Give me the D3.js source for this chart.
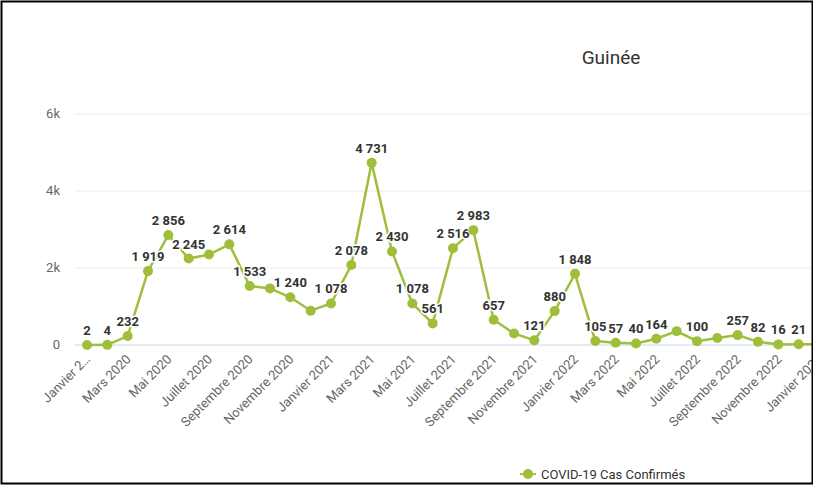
<!DOCTYPE html><html><head><meta charset="utf-8"><script src="https://cdn.jsdelivr.net/npm/d3@7"></script>
<style>body{margin:0;background:#fff}svg{font-family:Roboto,sans-serif}</style></head><body><svg id="c" width="817" height="489"></svg>
<script>
const months=["Janvier 2020","Février 2020","Mars 2020","Avril 2020","Mai 2020","Juin 2020","Juillet 2020","Août 2020","Septembre 2020","Octobre 2020","Novembre 2020","Décembre 2020","Janvier 2021","Février 2021","Mars 2021","Avril 2021","Mai 2021","Juin 2021","Juillet 2021","Août 2021","Septembre 2021","Octobre 2021","Novembre 2021","Décembre 2021","Janvier 2022","Février 2022","Mars 2022","Avril 2022","Mai 2022","Juin 2022","Juillet 2022","Août 2022","Septembre 2022","Octobre 2022","Novembre 2022","Décembre 2022","Janvier 2023"];
const cases=[2,4,232,1919,2856,2245,2350,2614,1533,1470,1240,890,1078,2078,4731,2430,1078,561,2516,2983,657,300,121,880,1848,105,57,40,164,360,100,180,257,82,16,21,20];
const showLabel=[1,1,1,1,1,1,0,1,1,0,1,0,1,1,1,1,1,1,1,1,1,0,1,1,1,1,1,1,1,0,1,0,1,1,1,1,0];
const yTicks=[0,2000,4000,6000];
const yTickLabels=["0","2k","4k","6k"];
const svg=d3.select("#c");
const x=d3.scalePoint().domain(months).range([87,819]);
const y=d3.scaleLinear().domain([0,6000]).range([345,114]);
const g=svg.append("g");
yTicks.forEach((t,i)=>{
  g.append("line").attr("x1",75).attr("x2",817).attr("y1",y(t)).attr("y2",y(t)).attr("stroke",i==0?"#ccd6eb":"#ececec");
  g.append("text").attr("x",60).attr("y",y(t)+4).attr("text-anchor","end").attr("font-size",13).attr("fill","#666").text(yTickLabels[i]);
});
months.forEach((m,i)=>{ if(i%2) return;
  const t=i==0?"Janvier 2…":m;
  g.append("text").attr("transform",`translate(${x(m)+4},${360}) rotate(-45)`).attr("text-anchor","end").attr("font-size",13).attr("fill","#666").text(t);
});
const line=d3.line().x((d,i)=>x(months[i])).y(d=>y(d));
g.append("path").datum(cases).attr("d",line).attr("fill","none").attr("stroke","#9fbf3b").attr("stroke-width",2.5);
cases.forEach((v,i)=>{
  g.append("circle").attr("cx",x(months[i])).attr("cy",y(v)).attr("r",5).attr("fill","#9fbf3b");
  if(showLabel[i]) g.append("text").attr("x",x(months[i])).attr("y",y(v)-10).attr("text-anchor","middle").attr("font-size",13).attr("font-weight","bold").attr("fill","#333").attr("stroke","#fff").attr("stroke-width",3).attr("paint-order","stroke").text(d3.format(",")(v).replace(/,/g," "));
});
svg.append("text").attr("x",611).attr("y",64).attr("text-anchor","middle").attr("font-size",19).attr("fill","#333").text("Guinée");
svg.append("circle").attr("cx",528).attr("cy",474).attr("r",5).attr("fill","#9fbf3b");
svg.append("line").attr("x1",520).attr("x2",536).attr("y1",474).attr("y2",474).attr("stroke","#9fbf3b").attr("stroke-width",2);
svg.append("text").attr("x",541).attr("y",479).attr("font-size",13).attr("fill","#333").text("COVID-19 Cas Confirmés");
svg.append("rect").attr("x",1.5).attr("y",1.5).attr("width",811).attr("height",482).attr("fill","none").attr("stroke","#000").attr("stroke-width",2);
svg.append("rect").attr("x",813).attr("y",0).attr("width",4).attr("height",489).attr("fill","#fff");
</script></body></html>
